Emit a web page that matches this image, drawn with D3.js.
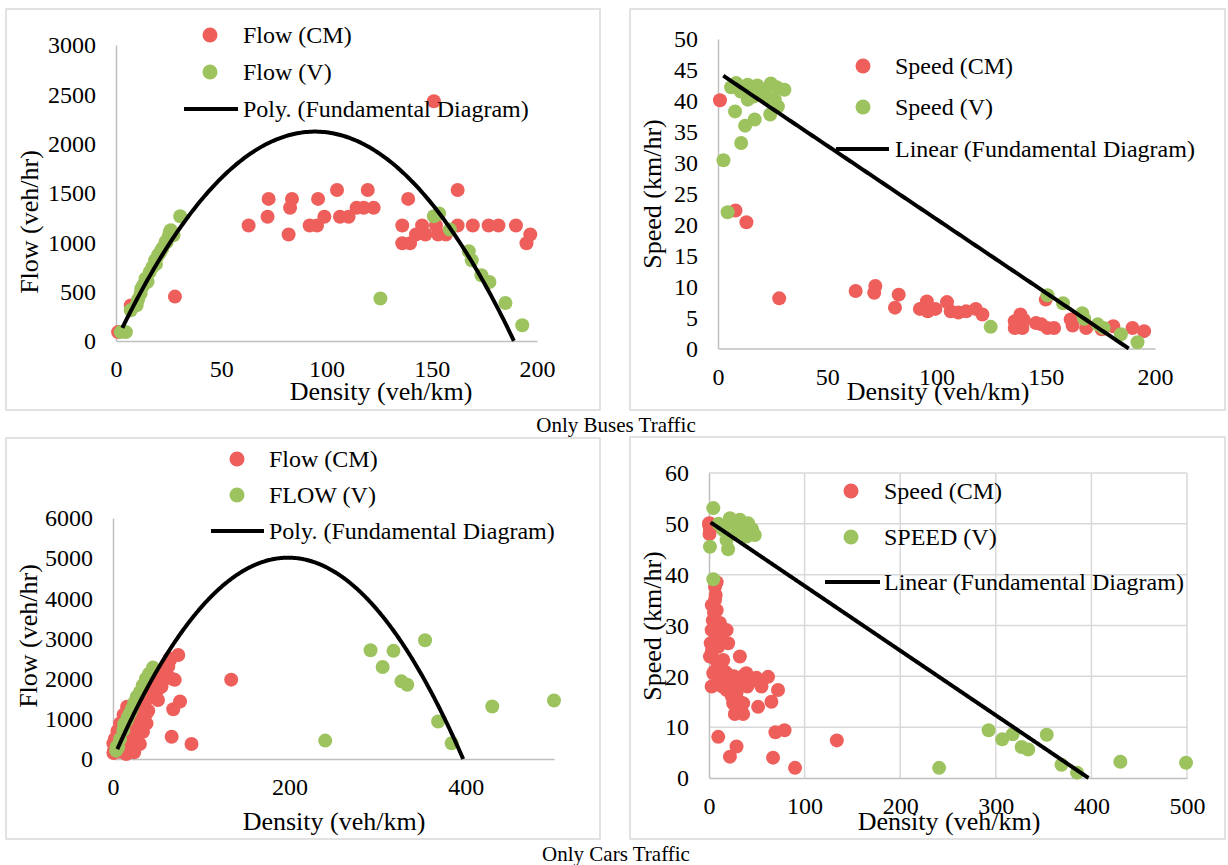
<!DOCTYPE html>
<html>
<head>
<meta charset="utf-8">
<script src="https://cdn.jsdelivr.net/npm/d3@7"></script>
<style>
  body { margin: 0; background: #fff; }
  text { font-family: "Liberation Serif", "Times New Roman", serif; fill: #000; }
</style>
</head>
<body>
<svg id="chart" width="1228" height="865"></svg>
<script>
// ---- data (density veh/km, value) ----
const busFlowCM = [[1,90],[7,360],[28,450],[63,1170],[72,1260],[72.5,1440],[82,1080],[82.7,1350],[83.6,1440],
  [92,1170],[95.5,1170],[96,1440],[99,1260],[105,1530],[106.4,1260],[110.5,1260],[114.3,1350],[117.7,1350],
  [119.6,1530],[122.4,1350],[136,1170],[136,990],[138.8,1440],[139.7,990],[142.5,1080],[145.4,1170],[147,1080],
  [151,2430],[152,1170],[153,1080],[156.7,1080],[162.3,1530],[162.3,1170],[169.5,1170],[177,1170],[181.7,1170],
  [190,1170],[195,990],[196.8,1080]];
const busFlowV = [[2.3,90],[4.7,90],[7,311],[9.8,362],[10.5,420],[11.7,480],[12,530],[13,565],[14,632],[15,600],
  [16,700],[17.3,750],[18.6,818],[19,780],[20,869],[21,900],[22,937],[23.5,1004],[24,1000],[24.9,1055],[25.5,1100],
  [26,1123],[27.3,1072],[30.5,1265],[125.6,430],[151,1265],[153.5,1292],[158.6,1130],[167.6,910],[169,818],
  [173.6,666],[177.4,598],[185,385],[193,159]];
const busSpeedCM = [[0.9,40.1],[8,22.3],[13,20.4],[28,8.1],[63,9.3],[71.5,9.0],[72,10.1],[81,6.6],[82.7,8.7],
  [92.4,6.4],[95.6,7.6],[96,6.0],[99.5,6.4],[104.8,7.5],[106.5,6.0],[110,5.8],[113.6,6.0],[118,6.4],[121,5.5],
  [135.8,4.4],[135.8,3.3],[137,4.0],[138.4,5.5],[139.3,3.3],[140,4.6],[145.5,4.1],[148,3.9],[150,7.9],[150.8,3.3],
  [153.8,3.3],[161.4,4.7],[162.3,3.7],[168.5,3.3],[175.6,3.1],[180.9,3.6],[189.7,3.3],[195,2.8]];
const busSpeedV = [[2.5,30.4],[4.4,22.0],[10.6,33.2],[12.4,36.0],[16.8,37.0],[7.8,38.3],[6,42.2],[8.3,42.9],
  [13.6,42.6],[18,42.5],[13.6,40.2],[16.3,40.7],[19.8,41.3],[24.2,42.8],[26.9,42.2],[30.4,41.8],[26,40.2],
  [27.4,39.1],[23.9,37.8],[22.5,40.5],[10.4,41.5],[21.6,41.8],[150.8,8.6],[157.9,7.3],[166.7,5.7],[167.6,4.8],
  [173.8,3.9],[176.5,3.3],[184.4,2.3],[192,1.0],[124.8,3.5]];

const carFlowCM = [[0.5,150],[1,167],[1.3,208],[2,260],[4,300],[3.6,375],[0.4,390],[2,500],[5.8,500],[5,700],
  [8,667],[8,888],[8,182],[8,473],[11,833],[12,300],[10,400],[12,1100],[14,700],[15,958],[15,125],[15.5,555],
  [16,1300],[18,1125],[19,708],[19.3,804],[20,1000],[21.5,1290],[23,266],[24,875],[24,167],[26,600],[26.9,971],
  [27,473],[28,1042],[28,375],[30,800],[30.5,375],[32.5,1302],[33,1167],[34,680],[35,1333],[36,875],[38,1137],
  [38,886],[39.5,1500],[40,1200],[41.9,1635],[44,1708],[45,1600],[48.5,1875],[49.5,1884],[50,1700],[51,1470],
  [53,2042],[55,1800],[57,2133],[57.5,2208],[60,2167],[62,2375],[62.7,2300],[64,2500],[64.6,2464],[66.4,2000],
  [66.5,555],[68.3,1240],[70,1970],[74,2590],[76,1430],[89,373],[134,1975]];
const carFlowV = [[3.6,208],[5.8,292],[4.2,306],[8,500],[11.7,722],[12.6,875],[15.5,950],[17,1042],[19.3,1138],
  [21.5,1250],[24,1400],[26.9,1551],[30.5,1667],[33.7,1833],[37.3,2000],[40.9,2125],[45.3,2275],[292,2708],
  [305.7,2292],[318,2692],[353.8,2958],[327,1933],[333.6,1850],[368.6,933],[384,392],[430,1308],[500,1458],
  [240.6,458]];
const carSpeedCM = [[0,50.1],[0.3,49.6],[1,48.8],[0.5,48],[1.5,50],[8,38.5],[6.3,37.6],[7,36],[6.3,35],[3,34],
  [8,33],[5.2,32.5],[4,31],[11.5,30.5],[2.8,29.1],[18.4,29.1],[8,28],[12,27],[6,27],[1.8,26.5],[20,26.5],
  [9.7,25.8],[3,25],[1,23.9],[32.3,23.9],[14.9,23.2],[8,23],[12,22],[6,21],[16,21],[4.5,20.6],[18.4,20.6],
  [39,20.6],[26,20],[35,20],[61.8,19.9],[49.7,19.7],[10,19],[22,19],[30,19],[44,19],[2.8,18],[14,18],[40,18],
  [54.9,18],[18.4,17.3],[72.2,17.3],[28.8,16.7],[24,16],[32,15],[65.3,15],[25.3,14.7],[35.7,14.7],[51.4,14],
  [27,12.6],[35.7,12.6],[79,9.4],[69.5,9.0],[9.7,8.1],[133.7,7.4],[28.8,6.2],[21.9,4.2],[67,4.0],[90,2.0]];
const carSpeedV = [[4.5,53.1],[21.9,51.1],[32.3,50.8],[10,50],[25.3,50.1],[41,50.1],[30,49.5],[45,49],
  [14.9,48.8],[37.5,48.8],[28.8,48.1],[47.9,47.8],[39.3,47.5],[18.4,46.8],[1,45.5],[20,45],[4.5,39.1],
  [292.5,9.4],[306.7,7.6],[317.7,8.6],[327,6.1],[333.9,5.6],[353.3,8.5],[368.7,2.6],[385,1.05],[430.3,3.2],
  [499,3.0],[240.7,2.0]];

// trendline coefficients [a, b] and density range [start, end]
const busFlowFit = [44.9, 0.2375], busFlowRange = [3, 189];
const busSpeedFit = [44.64, 0.2375], busSpeedRange = [2.4, 188];
const carFlowFit = [50.5, 0.1272], carFlowRange = [4.9, 397];
const carSpeedFit = [50.5, 0.1272], carSpeedRange = [1.8, 397];

const busDensityTicks = [0, 50, 100, 150, 200];
const busFlowTicks = [0, 500, 1000, 1500, 2000, 2500, 3000];
const busSpeedTicks = [0, 5, 10, 15, 20, 25, 30, 35, 40, 45, 50];
const carFlowDensityTicks = [0, 200, 400];
const carFlowTicks = [0, 1000, 2000, 3000, 4000, 5000, 6000];
const carSpeedDensityTicks = [0, 100, 200, 300, 400, 500];
const carSpeedTicks = [0, 10, 20, 30, 40, 50, 60];

const captions = ["Only Buses Traffic", "Only Cars Traffic"];

const RED = "#ee5f5b", GREEN = "#9dc35f";
const svg = d3.select("#chart");
svg.append("rect").attr("width", 1228).attr("height", 865).attr("fill", "#fff");

function drawPanel(p) {
  const g = svg.append("g");
  g.append("rect")
    .attr("x", p.box[0]).attr("y", p.box[1])
    .attr("width", p.box[2] - p.box[0]).attr("height", p.box[3] - p.box[1])
    .attr("fill", "none").attr("stroke", "#d9d9d9").attr("stroke-width", 1.5);

  const x = d3.scaleLinear().domain(p.xDomain).range(p.xRange);
  const y = d3.scaleLinear().domain(p.yDomain).range(p.yRange);

  if (p.grid) {
    g.append("g").selectAll("line").data(p.yTicks.slice(1)).join("line")
      .attr("x1", x(p.xDomain[0])).attr("x2", x(p.xDomain[1]))
      .attr("y1", d => y(d)).attr("y2", d => y(d))
      .attr("stroke", "#d9d9d9").attr("stroke-width", 1.5);
    g.append("g").selectAll("line").data(p.xTicks.slice(1)).join("line")
      .attr("y1", y(p.yDomain[0])).attr("y2", y(p.yDomain[1]))
      .attr("x1", d => x(d)).attr("x2", d => x(d))
      .attr("stroke", "#d9d9d9").attr("stroke-width", 1.5);
  }

  const fmt = d3.format("d");
  const xAxis = g.append("g")
    .attr("transform", `translate(0,${y(0)})`)
    .call(d3.axisBottom(x).tickValues(p.xTicks).tickFormat(fmt).tickSize(0).tickSizeOuter(0).tickPadding(19));
  const yAxis = g.append("g")
    .attr("transform", `translate(${x(0)},0)`)
    .call(d3.axisLeft(y).tickValues(p.yTicks).tickFormat(fmt).tickSize(0).tickSizeOuter(0).tickPadding(20));
  [xAxis, yAxis].forEach(a => {
    a.select(".domain").attr("stroke", "#bfbfbf").attr("stroke-width", 1.5);
    a.selectAll("text").attr("font-size", 24).attr("font-family", "Liberation Serif").attr("fill", "#000");
  });

  // markers: CM first, V on top
  g.append("g").selectAll("circle").data(p.cm).join("circle")
    .attr("cx", d => x(d[0])).attr("cy", d => y(d[1])).attr("r", 7).attr("fill", RED);
  g.append("g").selectAll("circle").data(p.v).join("circle")
    .attr("cx", d => x(d[0])).attr("cy", d => y(d[1])).attr("r", 7).attr("fill", GREEN);

  // trendline
  const [a, b] = p.fit;
  const f = p.kind === "flow" ? k => a * k - b * k * k : k => a - b * k;
  const ks = d3.range(p.fitRange[0], p.fitRange[1], 1).concat([p.fitRange[1]]);
  g.append("path")
    .datum(ks)
    .attr("d", d3.line().x(k => x(k)).y(k => y(Math.max(0, f(k)))))
    .attr("fill", "none").attr("stroke", "#000").attr("stroke-width", 4);

  // axis titles
  g.append("text").attr("x", p.xTitle[0]).attr("y", p.xTitle[1])
    .attr("text-anchor", "middle").attr("font-size", 26).text("Density (veh/km)");
  g.append("text")
    .attr("transform", `translate(${p.yTitle[0]},${p.yTitle[1]}) rotate(-90)`)
    .attr("text-anchor", "middle").attr("font-size", 26).text(p.yLabel);

  // legend
  const L = p.legend;
  const items = [
    { type: "dot", color: RED, label: p.names[0], y: L.y[0] },
    { type: "dot", color: GREEN, label: p.names[1], y: L.y[1] },
    { type: "line", label: p.names[2], y: L.y[2] }
  ];
  items.forEach(it => {
    if (it.type === "dot") {
      g.append("circle").attr("cx", L.cx).attr("cy", it.y).attr("r", 7.5).attr("fill", it.color);
    } else {
      g.append("line").attr("x1", L.line[0]).attr("x2", L.line[1])
        .attr("y1", it.y).attr("y2", it.y).attr("stroke", "#000").attr("stroke-width", 4);
    }
    g.append("text").attr("x", L.tx).attr("y", it.y).attr("dy", "0.33em")
      .attr("font-size", 24).text(it.label);
  });
}

drawPanel({
  box: [6, 9, 600, 410], xDomain: [0, 200], xRange: [116, 537], yDomain: [0, 3000], yRange: [341, 45],
  xTicks: busDensityTicks, yTicks: busFlowTicks, cm: busFlowCM, v: busFlowV,
  kind: "flow", fit: busFlowFit, fitRange: busFlowRange,
  xTitle: [381, 400], yTitle: [38, 222], yLabel: "Flow (veh/hr)",
  names: ["Flow (CM)", "Flow (V)", "Poly. (Fundamental Diagram)"],
  legend: { cx: 210, tx: 243, line: [184, 238], y: [35, 72, 109] }
});
drawPanel({
  box: [630, 9, 1225, 410], xDomain: [0, 200], xRange: [718, 1155], yDomain: [0, 50], yRange: [348.5, 39],
  xTicks: busDensityTicks, yTicks: busSpeedTicks, cm: busSpeedCM, v: busSpeedV,
  kind: "speed", fit: busSpeedFit, fitRange: busSpeedRange,
  xTitle: [938, 400], yTitle: [661, 194], yLabel: "Speed (km/hr)",
  names: ["Speed (CM)", "Speed (V)", "Linear (Fundamental Diagram)"],
  legend: { cx: 863, tx: 895, line: [836, 889], y: [66, 107, 149] }
});
drawPanel({
  box: [6, 438, 600, 839], xDomain: [0, 500], xRange: [113, 554], yDomain: [0, 6000], yRange: [759, 518],
  xTicks: carFlowDensityTicks, yTicks: carFlowTicks, cm: carFlowCM, v: carFlowV,
  kind: "flow", fit: carFlowFit, fitRange: carFlowRange,
  xTitle: [334, 830], yTitle: [37, 636], yLabel: "Flow (veh/hr)",
  names: ["Flow (CM)", "FLOW (V)", "Poly. (Fundamental Diagram)"],
  legend: { cx: 237, tx: 269, line: [211, 264], y: [459, 495, 531] }
});
drawPanel({
  box: [630, 437, 1225, 839], xDomain: [0, 500], xRange: [709, 1187], yDomain: [0, 60], yRange: [778, 473],
  xTicks: carSpeedDensityTicks, yTicks: carSpeedTicks, cm: carSpeedCM, v: carSpeedV, grid: true,
  kind: "speed", fit: carSpeedFit, fitRange: carSpeedRange,
  xTitle: [949, 830], yTitle: [661, 626], yLabel: "Speed (km/hr)",
  names: ["Speed (CM)", "SPEED (V)", "Linear (Fundamental Diagram)"],
  legend: { cx: 851, tx: 884, line: [825, 880], y: [491, 537, 582] }
});

svg.append("text").attr("x", 616).attr("y", 432).attr("text-anchor", "middle")
  .attr("font-size", 21).text(captions[0]);
svg.append("text").attr("x", 616).attr("y", 861).attr("text-anchor", "middle")
  .attr("font-size", 21).text(captions[1]);
</script>
</body>
</html>
